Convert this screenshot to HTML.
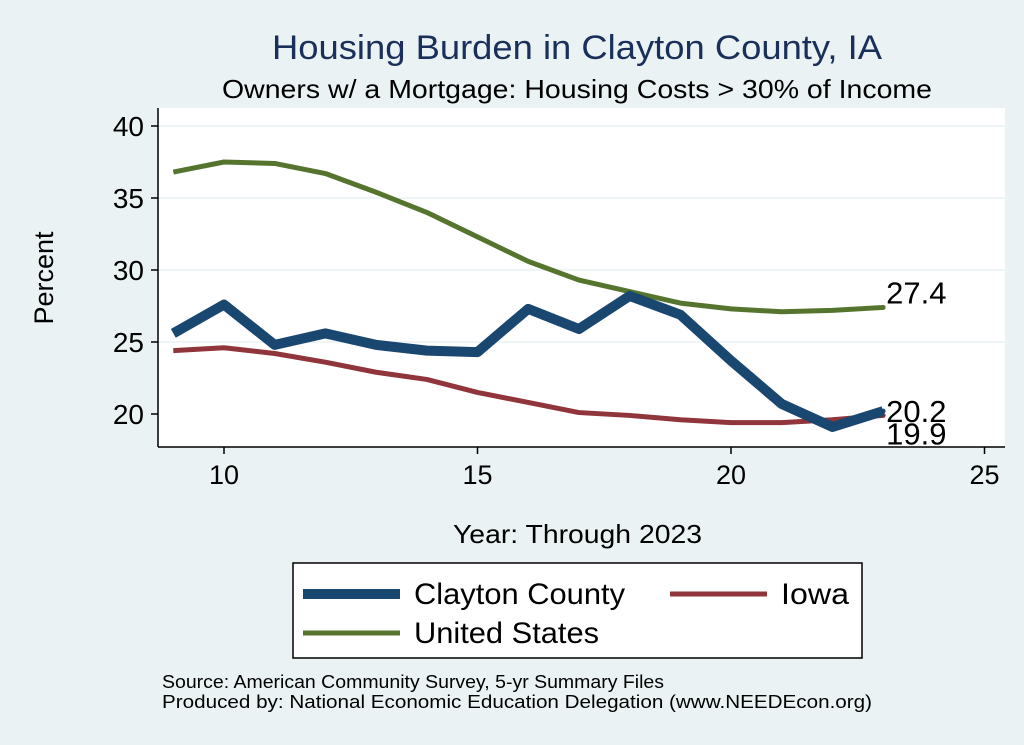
<!DOCTYPE html>
<html><head><meta charset="utf-8"><style>
body{margin:0;background:#eaf2f3;}
svg{display:block;font-family:"Liberation Sans",Arial,sans-serif;}
</style></head><body>
<svg width="1024" height="745" viewBox="0 0 1024 745">
<rect x="0" y="0" width="1024" height="745" fill="#eaf2f3"/>
<text x="272" y="59" font-size="34" fill="#1a2f5a" textLength="610" lengthAdjust="spacingAndGlyphs">Housing Burden in Clayton County, IA</text>
<text x="222" y="98" font-size="26" fill="#000" textLength="710" lengthAdjust="spacingAndGlyphs">Owners w/ a Mortgage: Housing Costs &gt; 30% of Income</text>
<rect x="158" y="108" width="847" height="339" fill="#fff"/>
<g id="grid"></g>
<g id="axes"></g>
<g id="series"></g>
<text x="0" y="0" font-size="27" text-anchor="middle" transform="translate(53,278) rotate(-90)">Percent</text>
<text x="453" y="543" font-size="26" textLength="249" lengthAdjust="spacingAndGlyphs">Year: Through 2023</text>
<g>
<rect x="293" y="563" width="569" height="95" fill="#fff" stroke="#000" stroke-width="1.5"/>
<line x1="303" y1="594" x2="400" y2="594" stroke="#1a476f" stroke-width="10"/>
<text x="414" y="604" font-size="30" textLength="211" lengthAdjust="spacingAndGlyphs">Clayton County</text>
<line x1="670" y1="594" x2="767" y2="594" stroke="#90353b" stroke-width="5"/>
<text x="781" y="604" font-size="30" textLength="68" lengthAdjust="spacingAndGlyphs">Iowa</text>
<line x1="303" y1="633" x2="400" y2="633" stroke="#55752f" stroke-width="5"/>
<text x="414" y="643" font-size="30" textLength="185" lengthAdjust="spacingAndGlyphs">United States</text>
</g>
<text x="162" y="688" font-size="18" textLength="502" lengthAdjust="spacingAndGlyphs">Source: American Community Survey, 5-yr Summary Files</text>
<text x="162" y="708" font-size="18" textLength="710" lengthAdjust="spacingAndGlyphs">Produced by: National Economic Education Delegation (www.NEEDEcon.org)</text>
</svg>
<script>
const years=[9,10,11,12,13,14,15,16,17,18,19,20,21,22,23];
const clayton=[25.6,27.6,24.8,25.6,24.8,24.4,24.3,27.3,25.9,28.2,26.9,23.7,20.7,19.1,20.2];
const iowa=[24.4,24.6,24.2,23.6,22.9,22.4,21.5,20.8,20.1,19.9,19.6,19.4,19.4,19.6,19.9];
const us=[36.8,37.5,37.4,36.7,35.4,34.0,32.3,30.6,29.3,28.5,27.7,27.3,27.1,27.2,27.4];
const xTicks=[10,15,20,25];
const yTicks=[20,25,30,35,40];
const NS="http://www.w3.org/2000/svg";
function X(v){return 224+(v-10)*50.7;}
function Y(v){return 414-(v-20)*14.4;}
function mk(tag,attrs,parent){const e=document.createElementNS(NS,tag);for(const k in attrs)e.setAttribute(k,attrs[k]);document.getElementById(parent).appendChild(e);return e;}
yTicks.forEach(t=>{
 if(t>20){const g=mk('line',{x1:158,x2:1005,y1:Y(t),y2:Y(t),stroke:'#eaf2f3','stroke-width':1.5},'grid');
 
 }
 const tk=mk('line',{x1:151,x2:158,y1:Y(t),y2:Y(t),stroke:'#000','stroke-width':1.5},'axes');
 
 
 const tx=mk('text',{x:144,y:Y(t)+10,'font-size':28,'text-anchor':'end'},'axes');tx.textContent=t;
 
 
});
xTicks.forEach(t=>{
 const tk=mk('line',{x1:X(t),x2:X(t),y1:447,y2:454,stroke:'#000','stroke-width':1.5},'axes');
 
 
 const tx=mk('text',{x:X(t),y:484,'font-size':27,'text-anchor':'middle'},'axes');tx.textContent=t;
 
 
});
const ya=mk('line',{x1:158,x2:158,y1:108,y2:447,stroke:'#000','stroke-width':1.5},'axes');


const xa=mk('line',{x1:158,x2:1005,y1:447,y2:447,stroke:'#000','stroke-width':1.5},'axes');


function draw(vals,color,w,name,labelDy){
 const p=mk('polyline',{points:years.map((y,i)=>X(y)+','+Y(vals[i])).join(' '),fill:'none',stroke:color,'stroke-width':w,'stroke-linejoin':'round'},'series');
 
 
 const n=vals.length-1;
 const c=mk('circle',{cx:X(years[n]),cy:Y(vals[n]),r:2.5,fill:color},'series');
 
 
 const t=mk('text',{x:X(years[n])+3,y:Y(vals[n])+labelDy,'font-size':31},'series');t.textContent=vals[n].toFixed(1);
 
 
}
draw(us,'#55752f',5,'us',-4);
draw(iowa,'#90353b',5,'iowa',29);
draw(clayton,'#1a476f',10,'clayton',11);
</script>
</body></html>
